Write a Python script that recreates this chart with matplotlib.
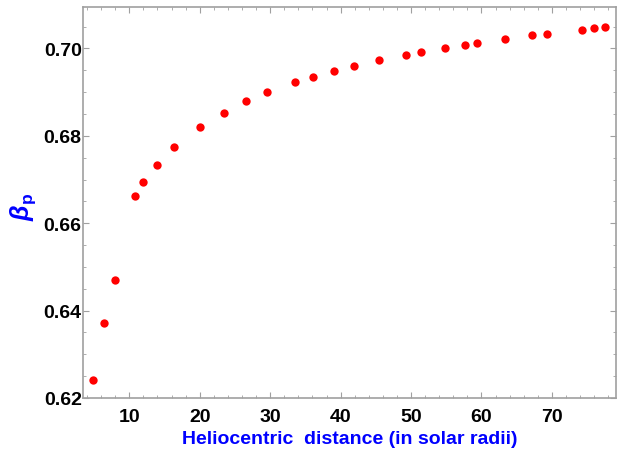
import matplotlib
matplotlib.use("Agg")
import matplotlib.pyplot as plt
from matplotlib.ticker import MultipleLocator

# heliocentric distance (solar radii) and beta_p
distance = [4.85, 6.41, 7.97, 10.76, 11.99, 13.89, 16.34, 20.04, 23.40, 26.52,
            29.50, 33.56, 36.07, 39.10, 41.85, 45.50, 49.28, 51.41, 54.77, 57.61,
            59.35, 63.37, 67.16, 69.29, 74.21, 76.00, 77.57]
beta_p = [0.6242, 0.6371, 0.6471, 0.6662, 0.6694, 0.6733, 0.6775, 0.6821, 0.6853, 0.6879,
          0.6901, 0.6923, 0.6934, 0.6949, 0.6960, 0.6974, 0.6985, 0.6992, 0.7001, 0.7008,
          0.7013, 0.7022, 0.7030, 0.7033, 0.7042, 0.7046, 0.7049]

plt.rcParams['font.family'] = ['Liberation Sans', 'DejaVu Sans']
plt.rcParams['mathtext.fontset'] = 'custom'
plt.rcParams['mathtext.it'] = 'Liberation Sans:italic:bold'
plt.rcParams['mathtext.rm'] = 'Liberation Sans:bold'

fig = plt.figure(figsize=(6.21, 4.64), dpi=100)
ax = fig.add_axes([0.1337, 0.1401, 0.8583, 0.8427])

ax.plot(distance, beta_p, 'o', color='red', ms=6, mec='none')

ax.set_xlim(3.43, 79.1)
ax.set_ylim(0.62, 0.7095)
ax.xaxis.set_major_locator(MultipleLocator(10))
ax.xaxis.set_minor_locator(MultipleLocator(2))
ax.yaxis.set_major_locator(MultipleLocator(0.02))
ax.yaxis.set_minor_locator(MultipleLocator(0.005))
ax.yaxis.set_major_formatter(matplotlib.ticker.FormatStrFormatter('%.2f'))

frame = '#a0a0a0'
for s in ax.spines.values():
    s.set_color(frame)
    s.set_linewidth(1.2)
ax.tick_params(which='both', direction='in', top=True, right=True, color=frame)
ax.tick_params(which='major', length=4, width=0.8, labelsize=14)
ax.tick_params(which='minor', length=2, width=0.6)
ax.tick_params(axis='x', which='major', pad=7)
ax.tick_params(axis='y', which='major', pad=1)
for lbl in ax.get_xticklabels() + ax.get_yticklabels():
    lbl.set_fontweight('bold')

ax.set_xlabel('Heliocentric  distance (in solar radii)', color='blue',
              fontsize=14, fontweight='bold', labelpad=4)
ax.set_ylabel(r'$\beta_\mathrm{p}$', color='blue', fontsize=18)
ax.yaxis.set_label_coords(-0.085, 0.49)

fig.savefig('out.png', dpi=100)
